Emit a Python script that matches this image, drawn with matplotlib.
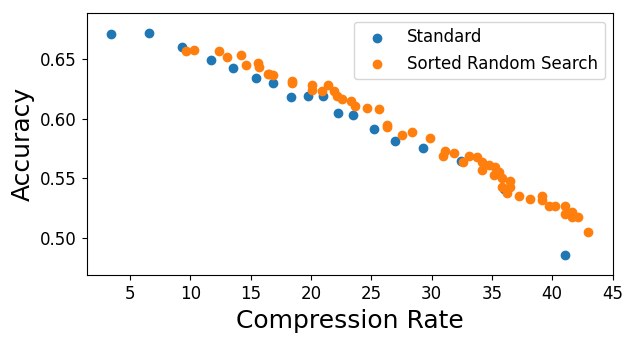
import matplotlib
matplotlib.use("Agg")
import matplotlib.pyplot as plt

# Standard pruning results
std_rate = [3.42, 6.61, 9.36, 11.69, 13.58, 15.44, 16.86, 18.36, 19.78, 21.03,
            22.28, 23.53, 25.19, 26.94, 29.33, 32.44, 35.97, 41.08]
std_acc = [0.6704, 0.6713, 0.6595, 0.6487, 0.6420, 0.6336, 0.6294, 0.6177, 0.6188, 0.6185,
           0.6043, 0.6026, 0.5909, 0.5808, 0.5750, 0.5643, 0.5409, 0.4862]

# Sorted random search results
srs_rate = [9.67, 10.28, 12.36, 13.03, 14.17, 14.61, 15.64, 15.69, 16.47, 16.53,
            16.89, 18.42, 18.42, 20.11, 20.11, 20.92, 21.42, 21.94, 22.17, 22.56,
            23.36, 23.69, 24.61, 25.64, 26.33, 26.33, 27.53, 28.42, 29.89, 30.92,
            31.08, 31.83, 32.61, 33.08, 33.75, 34.14, 34.19, 34.75, 35.25, 35.17,
            35.58, 35.86, 35.83, 36.25, 36.53, 36.53, 37.25, 38.17, 39.19, 39.19,
            39.72, 40.19, 41.08, 41.08, 41.64, 41.64, 42.14, 42.94]
srs_acc = [0.6562, 0.6570, 0.6562, 0.6512, 0.6528, 0.6445, 0.6461, 0.6428, 0.6369, 0.6372,
           0.6361, 0.6313, 0.6294, 0.6277, 0.6240, 0.6230, 0.6280, 0.6230, 0.6188, 0.6160,
           0.6146, 0.6104, 0.6084, 0.6076, 0.5945, 0.5925, 0.5861, 0.5883, 0.5833, 0.5688,
           0.5727, 0.5710, 0.5640, 0.5688, 0.5674, 0.5632, 0.5568, 0.5612, 0.5596, 0.5526,
           0.5551, 0.5503, 0.5428, 0.5373, 0.5478, 0.5428, 0.5353, 0.5325, 0.5350, 0.5319,
           0.5272, 0.5264, 0.5266, 0.5197, 0.5216, 0.5172, 0.5172, 0.5054]

fig, ax = plt.subplots(figsize=(6.29, 3.42), dpi=100)
fig.subplots_adjust(left=0.138, right=0.975, top=0.961, bottom=0.195)

ax.scatter(std_rate, std_acc, color="#1f77b4", s=36, label="Standard")
ax.scatter(srs_rate, srs_acc, color="#ff7f0e", s=36, label="Sorted Random Search")

ax.set_xlim(1.43, 45.06)
ax.set_ylim(0.4688, 0.688)
ax.set_xticks([5, 10, 15, 20, 25, 30, 35, 40, 45])
ax.set_yticks([0.50, 0.55, 0.60, 0.65])
ax.tick_params(labelsize=12)
ax.set_xlabel("Compression Rate", fontsize=18)
ax.set_ylabel("Accuracy", fontsize=18)
ax.legend(loc="upper right", fontsize=12, scatterpoints=1)

fig.savefig("out.png", dpi=100)
